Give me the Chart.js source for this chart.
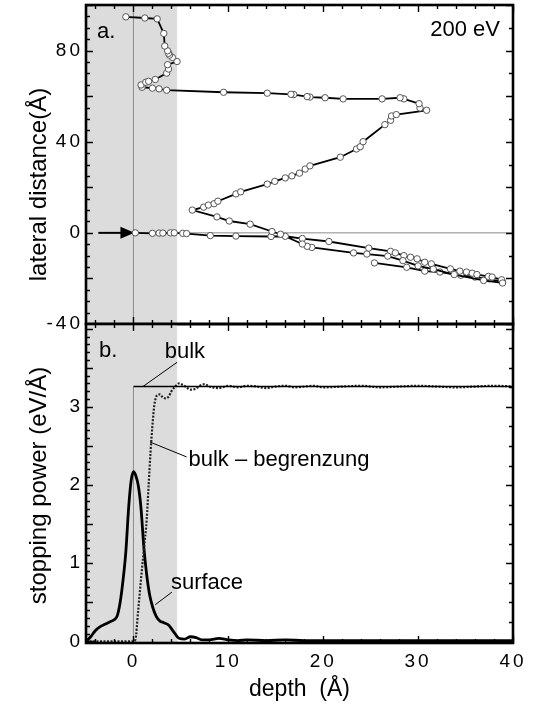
<!DOCTYPE html>
<html>
<head>
<meta charset="utf-8">
<script src="https://cdn.jsdelivr.net/npm/chart.js"></script>
<style>
  body { margin: 0; background: #fff; }
  #wrap { position: relative; width: 537px; height: 710px; }
  canvas { position: absolute; left: 0; }
  #topChart { top: 0; }
  #bottomChart { top: 316px; }
</style>
</head>
<body>
<div id="wrap">
  <canvas id="topChart" width="537" height="340"></canvas>
  <canvas id="bottomChart" width="537" height="394"></canvas>
</div>
<script>
// a. trajectory of the 200 eV electron (depth / lateral distance in Å)
const trajDepth = [0.2, 2.0, 2.7, 3.1, 3.9, 4.3, 5.2, 5.6, 8.1, 10.8,
  14.5, 16.0, 17.8, 20.6, 24.8, 27.1, 27.6, 28.5, 29.2, 29.9,
  30.7, 31.4, 33.4, 34.4, 35.1, 35.7, 36.2, 37.4, 37.8, 38.8,
  38.9, 36.9, 33.8, 31.6, 30.0, 28.4, 26.8, 24.6, 23.2, 18.8,
  18.3, 17.8, 15.5, 14.6, 12.3, 10.1, 8.8, 6.2, 7.4, 7.9,
  8.5, 8.9, 10.8, 11.3, 14.1, 14.9, 16.0, 16.7, 17.5, 18.1,
  18.6, 21.8, 23.5, 23.9, 24.2, 26.5, 27.1, 27.2, 27.7, 30.9,
  30.2, 30.1, 28.5, 28.1, 26.2, 22.1, 20.2, 18.6, 18.3, 16.9,
  16.6, 14.1, 9.5, 3.5, 2.7, 2.0, 0.9, 0.8, 1.3, 1.6,
  2.3, 3.5, 3.7, 3.6, 4.6, 4.1, 3.8, 3.7, 3.6, 3.3,
  3.2, 2.5, 1.2, -0.8];
const trajLateral = [0.0, -0.2, -0.1, -0.1, 0.0, 0.0, -0.2, -0.3, -1.2, -1.4,
  -1.6, -1.5, -2.5, -3.8, -6.7, -8.1, -8.8, -10.0, -10.7, -11.4,
  -12.9, -13.6, -15.8, -16.8, -17.2, -17.7, -18.3, -19.1, -19.4, -20.6,
  -22.0, -20.9, -18.3, -15.9, -14.5, -12.2, -10.2, -9.3, -8.8, -6.4,
  -5.9, -4.9, -0.6, 0.6, 3.8, 5.2, 7.0, 10.0, 11.3, 12.2,
  12.8, 13.9, 17.1, 18.0, 21.4, 22.6, 24.1, 25.0, 26.2, 28.0,
  29.4, 33.2, 36.8, 37.8, 40.0, 47.5, 49.4, 51.3, 51.9, 53.8,
  54.8, 56.7, 58.8, 59.3, 58.8, 58.8, 59.3, 59.6, 59.8, 60.7,
  60.8, 61.3, 61.7, 62.6, 63.2, 63.5, 63.9, 64.9, 66.1, 66.5,
  67.3, 70.1, 71.9, 73.8, 75.2, 77.0, 78.0, 78.8, 79.9, 82.0,
  87.5, 93.9, 94.3, 94.8];
// short separate branch in the lower right
const branchDepth = [25.4, 28.8, 30.7, 32.3, 34.5, 36.0, 37.5, 38.9];
const branchLateral = [-13.2, -15.1, -16.8, -17.2, -18.6, -19.4, -20.2, -21.6];

// b. stopping power (eV/Å)
const surfaceDepth = [-5, -4.5, -4, -3.5, -3, -2.5, -2, -1.7, -1.4, -1.1,
  -0.8, -0.5, -0.25, 0, 0.25, 0.5, 0.8, 1.1, 1.4, 1.7,
  2.0, 2.4, 2.8, 3.2, 3.7, 4.2, 4.8, 5.4, 6.0, 6.6,
  7.2, 8, 9, 10, 11, 12, 14, 16, 18, 20,
  24, 28, 32, 36, 40];
const surfaceValues = [0.0, 0.06, 0.14, 0.19, 0.22, 0.25, 0.28, 0.33, 0.5, 0.78,
  1.15, 1.72, 2.05, 2.17, 2.12, 2.0, 1.7, 1.2, 0.85, 0.6,
  0.45, 0.32, 0.26, 0.24, 0.21, 0.13, 0.04, 0.03, 0.06, 0.05,
  0.02, 0.02, 0.04, 0.02, 0.01, 0.02, 0.01, 0.02, 0.01, 0.01,
  0.01, 0.01, 0.01, 0.01, 0.01];
const begrDepth = [-5, -4, -3, -2, -1, 0, 0.2, 0.5, 0.8, 1.1,
  1.4, 1.6, 1.8, 2.0, 2.2, 2.5, 2.8, 3.1, 3.4, 3.7,
  4.0, 4.4, 4.8, 5.2, 5.6, 6.0, 6.5, 7.0, 7.5, 8.0,
  9, 10, 11, 12, 13, 14, 15, 16, 17, 18,
  19, 20, 22, 24, 26, 28, 30, 32, 34, 36, 38, 40];
const begrValues = [0, 0, 0, 0, 0, 0, 0.02, 0.4, 0.8, 1.18,
  1.56, 2.0, 2.42, 2.76, 3.02, 3.15, 3.16, 3.12, 3.11, 3.13,
  3.2, 3.26, 3.3, 3.28, 3.25, 3.22, 3.23, 3.27, 3.29, 3.26,
  3.24, 3.27, 3.25, 3.27, 3.26, 3.24, 3.26, 3.27, 3.25, 3.26,
  3.27, 3.25, 3.26, 3.27, 3.25, 3.26, 3.27, 3.26, 3.25, 3.26, 3.27, 3.26];
const bulkDepth = [0, 40];
const bulkValues = [3.26, 3.26];

// tick labels
const depthTicks = [0, 10, 20, 30, 40];
const lateralTicks = [-40, 0, 40, 80];
const powerTicks = [0, 1, 2, 3];

const shadeEnd = 4.6; // grey surface region ends here (Å)
const FONT = '"Liberation Sans", Arial, sans-serif';

const pts = (xs, ys) => xs.map((v, i) => ({x: v, y: ys[i]}));

function line(ctx, x1, y1, x2, y2) {
    ctx.beginPath();
    ctx.moveTo(x1, y1);
    ctx.lineTo(x2, y2);
    ctx.stroke();
}

// inward tick marks on the frame
function drawTicks(ctx, scale, t, a) {
    const first = Math.ceil((scale.min - 1e-9) / t.minor);
    const last = Math.floor((scale.max + 1e-9) / t.minor);
    ctx.beginPath();
    for (let i = first; i <= last; i++) {
        const v = i * t.minor;
        const r = v / t.major;
        const len = Math.abs(r - Math.round(r)) < 1e-6 ? 7 : 4;
        const p = Math.round(scale.getPixelForValue(v)) + 0.5;
        if (t.side === 'top') { ctx.moveTo(p, a.top); ctx.lineTo(p, a.top + len); }
        if (t.side === 'bottom') { ctx.moveTo(p, a.bottom); ctx.lineTo(p, a.bottom - len); }
        if (t.side === 'left') { ctx.moveTo(a.left, p); ctx.lineTo(a.left + len, p); }
        if (t.side === 'right') { ctx.moveTo(a.right, p); ctx.lineTo(a.right - len, p); }
    }
    ctx.stroke();
}

function panelPlugin(cfg) {
    return {
        id: 'panel',
        beforeDraw(chart) {
            chart.ctx.letterSpacing = '3px'; // spaced tick digits
        },
        beforeDatasetsDraw(chart) {
            const {ctx, chartArea: a, scales: {x, y}} = chart;
            ctx.save();
            ctx.letterSpacing = '0px';
            ctx.fillStyle = '#dcdcdc';
            ctx.fillRect(a.left, a.top, x.getPixelForValue(shadeEnd) - a.left, a.bottom - a.top);
            ctx.strokeStyle = '#8c8c8c';
            ctx.lineWidth = 1;
            cfg.guides(ctx, x, y, a);
            ctx.restore();
        },
        afterDatasetsDraw(chart) {
            const {ctx, chartArea: a, scales: {x, y}} = chart;
            ctx.save();
            ctx.letterSpacing = '0px';
            ctx.strokeStyle = '#000';
            ctx.fillStyle = '#000';
            ctx.lineWidth = 1.4;
            cfg.ticks.forEach(t => drawTicks(ctx, t.axis === 'x' ? x : y, t, a));
            ctx.lineWidth = 2.6;
            ctx.strokeRect(a.left, a.top, a.right - a.left, a.bottom - a.top);
            ctx.lineWidth = 1;
            ctx.font = `22px ${FONT}`;
            cfg.notes(ctx, x, y, a);
            ctx.restore();
        }
    };
}

function valueAxis(min, max, values) {
    return {
        type: 'linear', min: min, max: max,
        grid: {display: false, drawTicks: false},
        border: {display: false},
        ticks: {color: '#000', font: {family: FONT, size: 19}, padding: 3},
        afterBuildTicks: s => { s.ticks = values.map(v => ({value: v})); },
        afterFit: s => { s.width = 86; s.paddingTop = 0; s.paddingBottom = 0; }
    };
}

function verticalTitle(ctx, text, cy) {
    ctx.save();
    ctx.font = `24px ${FONT}`;
    ctx.translate(39, cy);
    ctx.rotate(-Math.PI / 2);
    ctx.textAlign = 'center';
    ctx.textBaseline = 'middle';
    ctx.fillText(text, 0, 0);
    ctx.restore();
}

const trajStyle = {
    showLine: true,
    borderColor: '#000',
    borderWidth: 1.8,
    pointRadius: 3.2,
    pointBackgroundColor: '#fff',
    pointBorderColor: '#555',
    pointBorderWidth: 1
};

function initCharts() {
    new Chart(document.getElementById('topChart'), {
        type: 'scatter',
        data: {
            datasets: [
                Object.assign({data: pts(trajDepth, trajLateral)}, trajStyle),
                Object.assign({data: pts(branchDepth, branchLateral)}, trajStyle)
            ]
        },
        options: {
            responsive: false,
            animation: false,
            devicePixelRatio: 1,
            layout: {padding: {top: 3, right: 24, bottom: 16, left: 0}},
            plugins: {legend: {display: false}, tooltip: {enabled: false}},
            scales: {
                x: {type: 'linear', min: -5, max: 40, display: false},
                y: valueAxis(-40, 100, lateralTicks)
            }
        },
        plugins: [panelPlugin({
            ticks: [
                {axis: 'x', side: 'top', minor: 2, major: 10},
                {axis: 'x', side: 'bottom', minor: 2, major: 10},
                {axis: 'y', side: 'left', minor: 5, major: 20},
                {axis: 'y', side: 'right', minor: 10, major: 20}
            ],
            guides(ctx, x, y, a) {
                const x0 = x.getPixelForValue(0), y0 = y.getPixelForValue(0);
                line(ctx, x0, a.top, x0, a.bottom);
                line(ctx, x0, y0, a.right, y0);
                // incidence arrow
                ctx.strokeStyle = '#000';
                ctx.fillStyle = '#000';
                ctx.lineWidth = 2;
                line(ctx, x.getPixelForValue(-3.7), y0, x0 - 12, y0);
                ctx.beginPath();
                ctx.moveTo(x0 + 1, y0);
                ctx.lineTo(x0 - 13, y0 - 6);
                ctx.lineTo(x0 - 13, y0 + 6);
                ctx.closePath();
                ctx.fill();
            },
            notes(ctx, x, y, a) {
                ctx.textAlign = 'left';
                ctx.fillText('a.', a.left + 11, a.top + 33);
                ctx.textAlign = 'right';
                ctx.fillText('200 eV', a.right - 13, a.top + 31);
                verticalTitle(ctx, 'lateral distance(Å)', (a.top + a.bottom) / 2 + 20);
            }
        })]
    });

    new Chart(document.getElementById('bottomChart'), {
        type: 'scatter',
        data: {
            datasets: [
                {data: pts(bulkDepth, bulkValues), showLine: true, borderColor: '#000', borderWidth: 1.5, pointRadius: 0},
                {data: pts(begrDepth, begrValues), showLine: true, borderColor: '#222', borderWidth: 2.2,
                 borderDash: [2, 1.5], pointRadius: 0, cubicInterpolationMode: 'monotone'},
                {data: pts(surfaceDepth, surfaceValues), showLine: true, borderColor: '#000', borderWidth: 2.8,
                 pointRadius: 0, cubicInterpolationMode: 'monotone'}
            ]
        },
        options: {
            responsive: false,
            animation: false,
            devicePixelRatio: 1,
            layout: {padding: {top: 8, right: 24, bottom: 0, left: 0}},
            plugins: {legend: {display: false}, tooltip: {enabled: false}},
            scales: {
                x: {
                    type: 'linear', min: -5, max: 40,
                    grid: {display: false, drawTicks: false},
                    border: {display: false},
                    ticks: {color: '#000', font: {family: FONT, size: 19}, padding: 7, maxRotation: 0, autoSkip: false},
                    afterBuildTicks: s => { s.ticks = depthTicks.map(v => ({value: v})); },
                    afterFit: s => { s.height = 67; s.paddingLeft = 0; s.paddingRight = 0; }
                },
                y: valueAxis(-0.02, 4.06, powerTicks)
            }
        },
        plugins: [panelPlugin({
            ticks: [
                {axis: 'x', side: 'top', minor: 2, major: 10},
                {axis: 'x', side: 'bottom', minor: 2, major: 10},
                {axis: 'y', side: 'left', minor: 0.1, major: 0.5},
                {axis: 'y', side: 'right', minor: 0.25, major: 1}
            ],
            guides(ctx, x, y, a) {
                const x0 = x.getPixelForValue(0);
                line(ctx, x0, y.getPixelForValue(bulkValues[0]), x0, a.bottom);
            },
            notes(ctx, x, y, a) {
                ctx.textAlign = 'left';
                ctx.fillText('b.', a.left + 13, a.top + 33);
                // labels with leader lines
                line(ctx, x.getPixelForValue(1.0), y.getPixelForValue(3.26), x.getPixelForValue(4.6), y.getPixelForValue(3.57));
                ctx.fillText('bulk', x.getPixelForValue(3.3), y.getPixelForValue(3.63));
                line(ctx, x.getPixelForValue(1.75), y.getPixelForValue(2.55), x.getPixelForValue(5.6), y.getPixelForValue(2.36));
                ctx.fillText('bulk – begrenzung', x.getPixelForValue(5.8), y.getPixelForValue(2.24));
                line(ctx, x.getPixelForValue(2.3), y.getPixelForValue(0.47), x.getPixelForValue(4.05), y.getPixelForValue(0.63));
                ctx.fillText('surface', x.getPixelForValue(3.95), y.getPixelForValue(0.67));
                verticalTitle(ctx, 'stopping power (eV/Å)', (a.top + a.bottom) / 2 + 2);
                ctx.font = `23px ${FONT}`;
                ctx.textAlign = 'center';
                ctx.textBaseline = 'middle';
                ctx.fillText('depth  (Å)', (a.left + a.right) / 2, 374);
            }
        })]
    });
}

document.addEventListener('DOMContentLoaded', initCharts);
</script>
</body>
</html>
